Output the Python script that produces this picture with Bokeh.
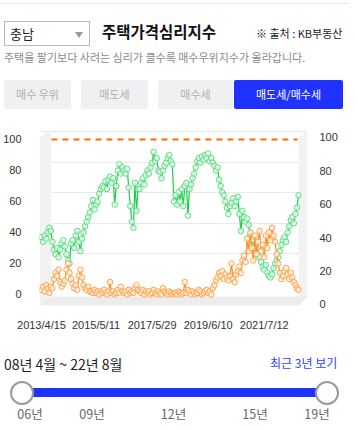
from bokeh.plotting import figure
from bokeh.models import Range1d, LinearAxis, FixedTicker, Div, Grid
from bokeh.layouts import column
from bokeh.embed import file_html
from bokeh.resources import INLINE

# ---------------- data ----------------
tick_index = [0, 35, 71, 107, 143]
tick_labels = ["2013/4/15", "2015/5/11", "2017/5/29", "2019/6/10", "2021/7/12"]
axis_ticks = [0, 20, 40, 60, 80, 100]
grid_ticks = [20, 40, 60, 80, 100]
ref_level = [100]

buy_sell = [  # 매도세/매수세 (green)
    37, 34, 38, 36, 40, 43, 41, 34, 29, 26, 30, 24, 29, 33, 35, 31, 26, 22, 20,
    33, 35, 30, 38, 41, 34, 28, 36, 40, 44, 47, 50, 53, 57, 61, 55, 58, 60,
    65, 68, 70, 69, 73, 68, 74, 76, 72, 75, 58, 70, 80, 84, 78, 82,
    80, 78, 81, 69, 57, 47, 43, 72, 54, 68, 68, 72, 75, 71, 77, 80, 78,
    82, 85, 92, 86, 88, 80, 79, 75, 80, 83, 85, 88, 90, 86, 84, 60,
    64, 58, 66, 60, 68, 57, 70, 72, 51, 68, 71, 75, 78,
    82, 86, 88, 85, 89, 87, 90, 88, 91, 86, 88, 85, 83, 80, 82,
    74, 70, 66, 64, 60, 56, 52, 57, 59, 62, 57, 60, 63,
    52, 41, 54, 50, 47, 49, 45, 38, 35, 31, 28, 30, 25,
    24, 21, 18, 16, 19, 14, 12, 11, 13, 17, 20, 22, 24, 28, 32, 35,
    37, 34, 40, 44, 48, 50, 46, 52, 56, 64,
]
sell_buy = [  # orange
    3, 5, 2, 6, 4, 1, 5, 4, 10, 14, 12, 16, 8, 5, 7, 9, 16, 20, 14,
    10, 7, 4, 6, 3, 12, 16, 11, 6, 4, 3, 5, 2, 2, 1, 3, 1, 2,
    0, 2, 1, 3, 1, 0, 2, 8, 1, 2, 0, 1, 3, 1, 5, 2,
    1, 2, 0, 3, 1, 2, 1, 4, 6, 3, 2, 1, 3, 0, 2, 1, 2,
    0, 1, 3, 1, 0, 2, 1, 0, 4, 2, 1, 0, 2, 1, 0, 1,
    1, 0, 2, 1, 0, 1, 8, 1, 3, 2, 0, 2, 1,
    0, 1, 3, 2, 0, 1, 2, 3, 1, 2, 0, 4, 6, 9, 11,
    14, 12, 15, 10, 13, 11, 9, 12, 20, 10, 8, 13, 15,
    18, 14, 22, 25, 21, 36, 28, 40, 30, 22, 38, 26, 34,
    41, 28, 32, 24, 38, 30, 40, 35, 43, 38, 34, 26, 20, 14, 10, 12,
    15, 17, 13, 10, 14, 11, 8, 6, 4, 3,
]
idx = list(range(len(buy_sell)))

FONT = "'Noto Sans CJK KR', 'Noto Sans', sans-serif"
W = 349

# ---------------- header ----------------
header_html = f"""
<div style="position:relative;left:0;top:0;width:{W}px;height:118px;font-family:{FONT};">
  <div style="position:absolute;left:0;top:3px;width:{W}px;height:1px;background:#e6e6e6;"></div>
  <div style="position:absolute;left:4px;top:21px;width:86px;height:25px;border:1px solid #b9b9b9;background:#fff;"></div>
  <div style="position:absolute;left:10px;top:26px;font-size:13px;line-height:16px;color:#222;white-space:nowrap;">충남</div>
  <div style="position:absolute;left:75px;top:32px;width:0;height:0;border-left:4px solid transparent;border-right:4px solid transparent;border-top:6px solid #9a9a9a;"></div>
  <div style="position:absolute;left:102px;top:21px;font-size:15.5px;font-weight:700;line-height:20px;color:#111;white-space:nowrap;">주택가격심리지수</div>
  <div style="position:absolute;left:256px;top:26px;font-size:11px;line-height:14px;color:#222;white-space:nowrap;">※ 출처 : KB부동산</div>
  <div style="position:absolute;left:4px;top:50px;font-size:11px;line-height:14px;color:#8a8a8a;white-space:nowrap;">주택을 팔기보다 사려는 심리가 클수록 매수우위지수가 올라갑니다.</div>
  <div style="position:absolute;left:4px;top:80px;width:67px;height:29px;line-height:29px;border-radius:2px;background:#eff0f2;color:#b0b0b0;font-size:11px;text-align:center;white-space:nowrap;">매수 우위</div>
  <div style="position:absolute;left:81px;top:80px;width:67px;height:29px;line-height:29px;border-radius:2px;background:#eff0f2;color:#b0b0b0;font-size:11px;text-align:center;white-space:nowrap;">매도세</div>
  <div style="position:absolute;left:158px;top:80px;width:75px;height:29px;line-height:29px;border-radius:2px;background:#eff0f2;color:#b0b0b0;font-size:11px;text-align:center;white-space:nowrap;">매수세</div>
  <div style="position:absolute;left:234px;top:80px;width:109px;height:29px;line-height:29px;border-radius:2px;background:#2032ff;color:#ffffff;font-size:11px;text-align:center;white-space:nowrap;">매도세/매수세</div>
</div>
"""
header = Div(text=header_html, width=W, height=118, margin=0)

# ---------------- chart ----------------
xr0, xr1 = -1.28, 170.76
yr0, yr1 = -8.39, 106.45
p = figure(width=W, height=217, output_backend="svg", toolbar_location=None,
           x_range=Range1d(xr0, xr1), y_range=Range1d(yr0, yr1),
           min_border_left=38, min_border_right=42, min_border_top=11, min_border_bottom=28,
           background_fill_color="white", border_fill_color="white", margin=0)
p.outline_line_color = None
p.extra_y_ranges = {"right": Range1d(-1.80, 104.79), "back": Range1d(-15.2, 101.44)}
p.xgrid.visible = False
p.ygrid.visible = False

p.add_layout(Grid(dimension=1, ticker=FixedTicker(ticks=grid_ticks), y_range_name="back",
                  grid_line_color="#e9e9e9", grid_line_width=1))

FL, FT, FW, FH = 38, 129, 269, 178
sx = FW / (xr1 - xr0)
sy = FH / (yr1 - yr0)


def dx(px):
    return xr0 + (px - FL) / sx


def dy(py):
    return yr1 - (py - FT) / sy


# 3D box walls (decoration)
p.patches(
    xs=[[dx(38), dx(50), dx(50), dx(38)],
        [dx(298), dx(307), dx(307), dx(298)],
        [dx(38), dx(50), dx(307), dx(298)]],
    ys=[[dy(137), dy(129), dy(296), dy(305)],
        [dy(138), dy(130), dy(296), dy(305)],
        [dy(305), dy(296), dy(296), dy(305)]],
    fill_color=["#f2f2f2", "#f2f2f2", "#ececec"], line_color=None)

# reference line at 100
p.segment(x0=[dx(50)], x1=[dx(297)], y0=ref_level, y1=ref_level,
          line_color="#ff6a00", line_width=2, line_dash="6 5")

p.line(idx, buy_sell, line_color="#1fcb4a", line_width=1.2)
p.scatter(idx, buy_sell, size=5.5, line_color="#5bdc84", line_width=1,
          fill_color="#e6fbec", fill_alpha=0.8)
p.line(idx, sell_buy, line_color="#ff8a1c", line_width=1.2)
p.scatter(idx, sell_buy, size=5.5, line_color="#ffa24a", line_width=1,
          fill_color="#fff1e2", fill_alpha=0.8)

# axes
xa = p.xaxis[0]
xa.ticker = FixedTicker(ticks=tick_index)
xa.major_label_overrides = {i: s for i, s in zip(tick_index, tick_labels)}
ya = p.yaxis[0]
ya.ticker = FixedTicker(ticks=axis_ticks)
ra = LinearAxis(y_range_name="right", ticker=FixedTicker(ticks=axis_ticks))
p.add_layout(ra, "right")
for ax, so in ((xa, 5), (ya, 12), (ra, 6)):
    ax.axis_line_color = None
    ax.major_tick_line_color = None
    ax.minor_tick_line_color = None
    ax.major_label_text_font_size = "11px"
    ax.major_label_text_color = "#333333"
    ax.major_label_text_font = "Liberation Sans"
    ax.major_label_standoff = so

# ---------------- footer ----------------
slider_labels = ["06년", "09년", "12년", "15년", "19년"]
slider_label_x = [30, 92, 173.5, 255, 317]
lbls = "".join(
    f'<div style="position:absolute;left:{cx - 20}px;top:71px;width:40px;text-align:center;'
    f'font-size:12.5px;line-height:16px;color:#666;">{t}</div>'
    for t, cx in zip(slider_labels, slider_label_x))
footer_html = f"""
<div style="position:relative;left:0;top:0;width:{W}px;height:87px;font-family:{FONT};">
  <div style="position:absolute;left:4px;top:20px;font-size:14px;line-height:18px;color:#222;white-space:nowrap;">08년 4월 ~ 22년 8월</div>
  <div style="position:absolute;left:270px;top:20px;font-size:12px;line-height:16px;color:#2f45ff;white-space:nowrap;">최근 3년 보기</div>
  <div style="position:absolute;left:22px;top:53px;width:305px;height:9px;background:#2032ff;"></div>
  <div style="position:absolute;left:10px;top:45.5px;width:24px;height:24px;box-sizing:border-box;border:2.5px solid #9a9a9a;border-radius:50%;background:#fff;"></div>
  <div style="position:absolute;left:314.7px;top:45.5px;width:24px;height:24px;box-sizing:border-box;border:2.5px solid #9a9a9a;border-radius:50%;background:#fff;"></div>
  {lbls}
</div>
"""
footer = Div(text=footer_html, width=W, height=87, margin=0)

layout = column(header, p, footer, spacing=0, margin=0)
open("out.html", "w").write(file_html(layout, INLINE))
